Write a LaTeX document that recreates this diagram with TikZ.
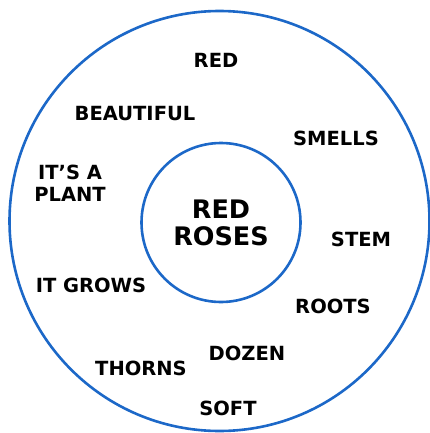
\documentclass[tikz,border=0pt]{standalone}
\usepackage{fontspec}
\setmainfont{DejaVu Sans}
\definecolor{ringblue}{RGB}{28,104,200}

\begin{document}
\begin{tikzpicture}[
  x=1pt,y=-1pt,
  ring/.style={draw=ringblue,circle,line width=2.6pt,inner sep=0pt},
  word/.style={font=\fontsize{19.5}{22}\selectfont\bfseries,align=center,inner sep=0pt,text=black}
]
  \useasboundingbox (0,0) rectangle (430,433);
  \node[ring,minimum size=420pt] (outer) at (219.5,221) {};
  \node[ring,minimum size=159pt,font=\fontsize{25.5}{27}\selectfont\bfseries,align=center] (core) at (221,222.5) {RED\\ROSES};

  \node[word] (red) at (216,60) {RED};
  \node[word] (beautiful) at (135,114) {BEAUTIFUL};
  \node[word] (smells) at (336,138) {SMELLS};
  \node[word] (plant) at (70,183) {IT’S A\\PLANT};
  \node[word] (stem) at (361,239) {STEM};
  \node[word] (grows) at (91,285) {IT GROWS};
  \node[word] (roots) at (333,306) {ROOTS};
  \node[word] (dozen) at (247,353) {DOZEN};
  \node[word] (thorns) at (141,368) {THORNS};
  \node[word] (soft) at (228,408) {SOFT};
\end{tikzpicture}
\end{document}
